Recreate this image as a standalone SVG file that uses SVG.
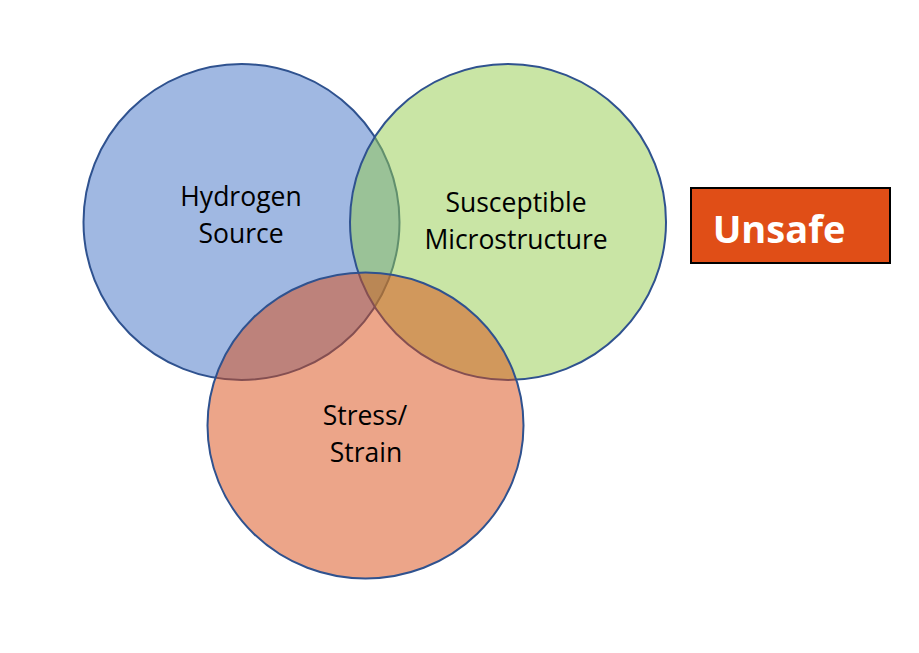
<svg xmlns="http://www.w3.org/2000/svg" width="919" height="653" viewBox="0 0 919 653">
<style>
.c{stroke:#2F528F;stroke-width:2;fill-opacity:0.5}
.t{font-family:"Open Sans","Liberation Sans",sans-serif;font-size:26.5px;fill:#000;text-anchor:middle}
.u{font-family:"Open Sans","Liberation Sans",sans-serif;font-size:38px;font-weight:bold;fill:#fff;text-anchor:middle}
</style>
<rect width="919" height="653" fill="#fff"/>
<g id="hydrogen">
<circle class="c" cx="241.5" cy="222" r="158" fill="#4171C5"/>
</g>
<g id="microstructure">
<circle class="c" cx="508" cy="222" r="158" fill="#93CB4B"/>
</g>
<g id="stress">
<ellipse class="c" cx="365.5" cy="425.5" rx="158" ry="153" fill="#D94B13"/>
</g>
<g id="labels">
<text class="t" x="241" y="206">Hydrogen</text>
<text class="t" x="241" y="243">Source</text>
<text class="t" x="516" y="212">Susceptible</text>
<text class="t" x="516" y="249">Microstructure</text>
<text class="t" x="365" y="425">Stress/</text>
<text class="t" x="366" y="462">Strain</text>
</g>
<g id="unsafe">
<rect x="691" y="188" width="199" height="75" fill="#E04E17" stroke="#000" stroke-width="2"/>
<text class="u" x="779" y="243">Unsafe</text>
</g>
</svg>
